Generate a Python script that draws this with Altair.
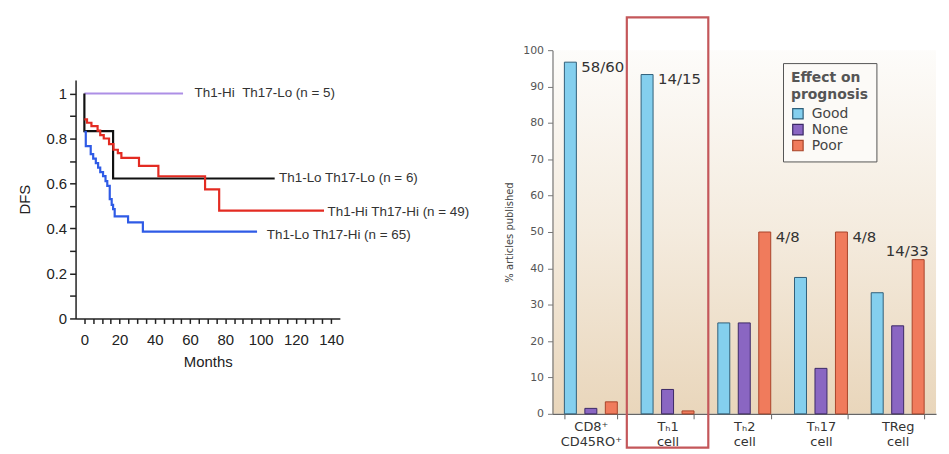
import altair as alt
import pandas as pd

# ---------------- Left panel: Kaplan-Meier DFS curves ----------------
km_groups = ["Th1-Hi Th17-Lo", "Th1-Lo Th17-Lo", "Th1-Hi Th17-Hi", "Th1-Lo Th17-Hi"]
km_colors = ["#ad8fe6", "#111111", "#e32b22", "#2f5be6"]

purple_months = [0, 56]
purple_dfs = [1.0, 1.0]

black_months = [0, 0, 16.3, 108]
black_dfs = [1.0, 0.833, 0.622, 0.622]

red_months = [0, 1.5, 4, 7.5, 9, 11, 14, 16.5, 19, 21, 31, 42, 68.5, 76.5, 136]
red_dfs = [0.885, 0.87, 0.855, 0.835, 0.815, 0.80, 0.775, 0.75, 0.735, 0.714,
           0.678, 0.632, 0.574, 0.479, 0.479]

blue_months = [0, 0.8, 3.6, 5, 6.5, 7.8, 9, 10.6, 12, 13, 14.4, 15.5, 16.3, 17.2,
               24.8, 33.2, 98]
blue_dfs = [0.83, 0.766, 0.73, 0.71, 0.69, 0.67, 0.65, 0.633, 0.61, 0.589, 0.53,
            0.505, 0.486, 0.454, 0.427, 0.386, 0.386]

km_label_text = ["Th1-Hi\u00a0\u00a0Th17-Lo (n = 5)", "Th1-Lo Th17-Lo (n = 6)",
                 "Th1-Hi Th17-Hi (n = 49)", "Th1-Lo Th17-Hi (n = 65)"]
km_label_month = [62.5, 110.5, 138, 103.5]
km_label_dfs = [1.0, 0.622, 0.474, 0.372]

month_ticks = list(range(0, 145, 5))
dfs_ticks = [0, 0.1, 0.2, 0.3, 0.4, 0.5, 0.6, 0.7, 0.8, 0.9, 1.0]

# ---------------- Right panel: prognosis bar chart ----------------
cells = ["CD8⁺|CD45RO⁺", "Tₕ1|cell", "Tₕ2|cell", "Tₕ17|cell", "TReg|cell"]
effects = ["Good", "None", "Poor"]
effect_colors = ["#84cfee", "#8a66c2", "#f07b5c"]
effect_strokes = ["#2f5f7a", "#3b2866", "#a8442a"]
good = [96.7, 93.3, 25.0, 37.5, 33.3]
none_ = [1.5, 6.7, 25.0, 12.5, 24.2]
poor = [3.3, 0.8, 50.0, 50.0, 42.4]

ann_cells = ["CD8⁺|CD45RO⁺", "Tₕ1|cell", "Tₕ2|cell", "Tₕ17|cell"]
ann_effects = ["Good", "Good", "Poor", "Poor"]
ann_values = [96.7, 93.3, 50.0, 50.0]
ann_text = ["58/60", "14/15", "4/8", "4/8"]

top_cells = ["TReg|cell"]
top_effects = ["Poor"]
top_values = [42.4]
top_text = ["14/33"]

box_cell = ["Tₕ1|cell"]
box_low = [-9.3]
box_high = [109]

# ---------------- build tables ----------------
rows = []
for g, ms, ds in zip(km_groups, [purple_months, black_months, red_months, blue_months],
                     [purple_dfs, black_dfs, red_dfs, blue_dfs]):
    for i, (m, d) in enumerate(zip(ms, ds)):
        rows.append({"group": g, "month": m, "dfs": d, "i": i})
km_df = pd.DataFrame(rows)
km_lab = pd.DataFrame({"text": km_label_text, "month": km_label_month, "dfs": km_label_dfs})

bar_rows = []
for c, a, b, p in zip(cells, good, none_, poor):
    for e, v in zip(effects, [a, b, p]):
        bar_rows.append({"cell": c, "effect": e, "pct": v})
bar_df = pd.DataFrame(bar_rows)
ann_df = pd.DataFrame({"cell": ann_cells, "effect": ann_effects, "pct": ann_values, "text": ann_text})
top_df = pd.DataFrame({"cell": top_cells, "effect": top_effects, "pct": top_values, "text": top_text})
box_df = pd.DataFrame({"cell": box_cell, "low": box_low, "high": box_high})

LF = "Liberation Sans"
RF = "DejaVu Sans"

# ---------------- left chart ----------------
kx_scale = alt.Scale(domain=[-5, 145], nice=False, zero=False)
kx_axis = alt.Axis(values=month_ticks, grid=False, title="Months",
                   labelExpr="datum.value % 20 == 0 ? datum.label : ''",
                   labelFont=LF, labelFontSize=15, labelColor="#222", labelPadding=9,
                   labelFlush=False, labelOverlap=False,
                   titleFont=LF, titleFontSize=15, titleFontWeight="normal",
                   titleColor="#222", titlePadding=7,
                   domainColor="#222", domainWidth=1.5, tickColor="#222",
                   tickWidth=1.5, tickSize=5)
ky_scale = alt.Scale(domain=[0, 1.06], nice=False)
ky_axis = alt.Axis(values=dfs_ticks, grid=False, title="DFS",
                   labelExpr="datum.value == 0 ? '0' : datum.value == 1 ? '1' : (round(datum.value * 10) % 2 == 0 ? format(datum.value, '.1f') : '')",
                   labelFont=LF, labelFontSize=15, labelColor="#222", labelPadding=3,
                   labelOverlap=False, labelFlush=False,
                   titleFont=LF, titleFontSize=15, titleFontWeight="normal",
                   titleColor="#222", titlePadding=14,
                   domainColor="#222", domainWidth=1.5, tickColor="#222",
                   tickWidth=1.5, tickSize=6)

km_lines = alt.Chart(km_df).mark_line(interpolate="step-after", strokeWidth=2.2).encode(
    x=alt.X("month:Q", scale=kx_scale, axis=kx_axis),
    y=alt.Y("dfs:Q", scale=ky_scale, axis=ky_axis),
    color=alt.Color("group:N", scale=alt.Scale(domain=km_groups, range=km_colors), legend=None),
    order="i:Q",
)
km_text = alt.Chart(km_lab).mark_text(align="left", baseline="middle", font=LF,
                                      fontSize=13.5, color="#333").encode(
    x=alt.X("month:Q", scale=kx_scale, axis=kx_axis),
    y=alt.Y("dfs:Q", scale=ky_scale, axis=ky_axis), text="text:N")

km_chart = alt.layer(km_lines, km_text).properties(
    width=266, height=240, view=alt.ViewBackground(fill="#ffffff", stroke=None))

spacer = alt.Chart(pd.DataFrame({"a": [0]})).mark_text(text="").encode(
    x=alt.value(0), y=alt.value(0)).properties(width=266, height=30,
                                               view=alt.ViewBackground(stroke=None))
left = alt.vconcat(spacer, km_chart, spacing=0)

# ---------------- right chart ----------------
bx_scale = alt.Scale(domain=cells, paddingInner=0.31, paddingOuter=0.155)
bx_axis = alt.Axis(title=None, labelExpr="split(datum.label, '|')", labelAngle=0,
                   labelFont=RF, labelFontSize=13, labelColor="#333", labelLineHeight=15,
                   labelPadding=2, tickBand="extent", tickSize=5, tickColor="#666",
                   domainColor="#666", domainWidth=1.2, labelBaseline="top")
bx = alt.X("cell:N", sort=cells, scale=bx_scale, axis=bx_axis)
by_scale = alt.Scale(domain=[0, 100], nice=False)
by_axis = alt.Axis(values=list(range(0, 101, 10)), grid=False, title="% articles published",
                   labelFont=RF, labelFontSize=11, labelColor="#555", labelPadding=4,
                   titleFont=RF, titleFontSize=10, titleFontWeight="normal",
                   titleColor="#444", titlePadding=8,
                   tickSize=5, tickColor="#777", domainColor="#777", domainWidth=1.2)
xoff = alt.XOffset("effect:N", sort=effects,
                   scale=alt.Scale(domain=effects, paddingInner=0.415, paddingOuter=0))

bars = alt.Chart(bar_df).mark_bar(strokeWidth=1).encode(
    x=bx, xOffset=xoff,
    y=alt.Y("pct:Q", scale=by_scale, axis=by_axis),
    color=alt.Color("effect:N", scale=alt.Scale(domain=effects, range=effect_colors),
                    legend=alt.Legend(title=["Effect on", "prognosis"], orient="none",
                                      legendX=232, legendY=13, symbolType="square",
                                      symbolSize=110, symbolStrokeColor="#333",
                                      symbolStrokeWidth=1.2, strokeColor="#555",
                                      fillColor="#fcfaf7", padding=8,
                                      titleFont=RF, titleFontSize=14, titleFontWeight=600,
                                      titleColor="#555", titlePadding=5,
                                      titleLineHeight=17,
                                      labelFont=RF, labelFontSize=14, labelColor="#444",
                                      rowPadding=0, labelOffset=7)),
    stroke=alt.Stroke("effect:N", scale=alt.Scale(domain=effects, range=effect_strokes),
                      legend=None),
)
ann = alt.Chart(ann_df).mark_text(align="left", baseline="middle", dx=11, dy=5,
                                  font=RF, fontSize=15, color="#333").encode(
    x=bx, xOffset=xoff, y=alt.Y("pct:Q", scale=by_scale, axis=by_axis), text="text:N")
ann_top = alt.Chart(top_df).mark_text(align="center", baseline="middle", dx=-11, dy=-9,
                                      font=RF, fontSize=15, color="#333").encode(
    x=bx, xOffset=xoff, y=alt.Y("pct:Q", scale=by_scale, axis=by_axis), text="text:N")
box = alt.Chart(box_df).mark_rect(filled=False, stroke="#c4575a", strokeWidth=2.2,
                                  width=82).encode(
    x=bx, y=alt.Y("high:Q", scale=by_scale, axis=by_axis), y2="low:Q")

gradient_expr = ("{gradient: 'linear', x1: 0, y1: 0, x2: 0, y2: 1, stops: ["
                 "{offset: 0, color: '#fdfcfa'}, {offset: 0.5, color: '#f4ebde'}, "
                 "{offset: 1, color: '#e9d6bb'}]}")
bar_chart = alt.layer(bars, ann, ann_top, box).properties(
    width=386, height=366,
    view=alt.ViewBackground(fill=alt.ExprRef(expr=gradient_expr), stroke=None))

chart = alt.hconcat(left, bar_chart, spacing=35).resolve_scale(
    color="independent", stroke="independent", x="independent", y="independent"
).configure(
    background="#ffffff", padding={"left": 9, "top": 6, "right": 5, "bottom": 5}
).configure_view(stroke=None)

chart.save("out.html", embed_options={"renderer": "svg", "actions": False})
